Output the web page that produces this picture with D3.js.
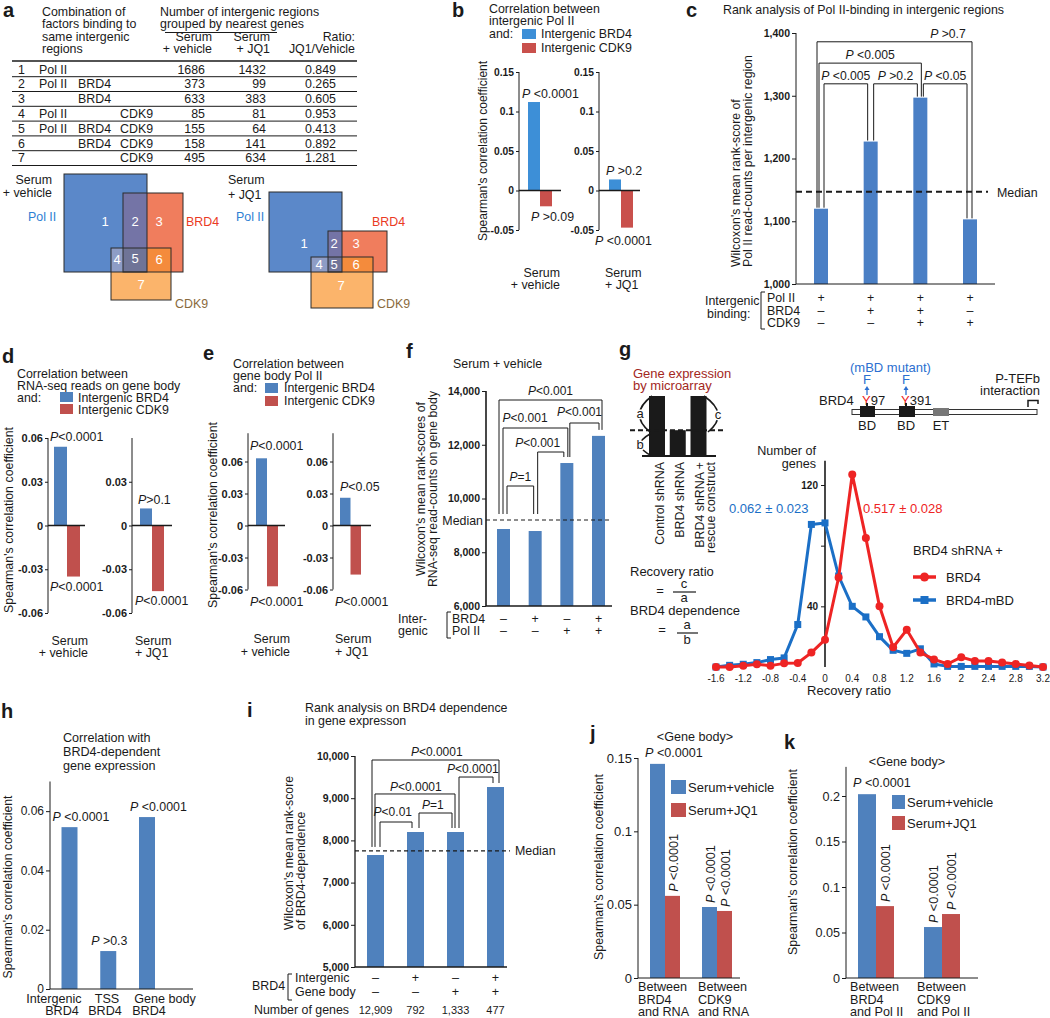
<!DOCTYPE html>
<html><head><meta charset="utf-8">
<script src="https://cdn.jsdelivr.net/npm/d3@7"></script>
<style>body{margin:0;background:#fff}svg{display:block}</style>
</head><body><script>
// ===================== DATA =====================
// a: table
const regionIds=[1,2,3,4,5,6,7];
const regionPolII=["Pol II","Pol II","","Pol II","Pol II","",""];
const regionBRD4=["","BRD4","BRD4","","BRD4","BRD4",""];
const regionCDK9=["","","","CDK9","CDK9","CDK9","CDK9"];
const countVehicle=[1686,373,633,85,155,158,495];
const countJQ1=[1432,99,383,81,64,141,634];
const ratioJQ1Vehicle=[0.849,0.265,0.605,0.953,0.413,0.892,1.281];
// b
const bConditions=["Serum + vehicle","Serum + JQ1"];
const bIntergenicBRD4=[0.112,0.014];
const bIntergenicCDK9=[-0.020,-0.047];
const bP_BRD4=[" <0.0001"," >0.2"];
const bP_CDK9=[" >0.09"," <0.0001"];
const bTicks=[-0.05,0,0.05,0.1,0.15];
// c
const cGroups=["Pol II","Pol II+BRD4","Pol II+BRD4+CDK9","Pol II+CDK9"];
const cValues=[1120,1227,1297,1103];
const cMedian=1147;
const cPolII=["+","+","+","+"];
const cBRD4=["–","+","+","–"];
const cCDK9=["–","–","+","+"];
const cTicks=[1000,1100,1200,1300,1400];
const cPairs=[[0,1],[1,2],[2,3],[0,2],[0,3]];
const cPvalues=[" <0.005"," >0.2"," <0.05"," <0.005"," >0.7"];
const cLevels=[1319,1319,1319,1352,1386];
// d
const dBRD4=[0.054,0.0117];
const dCDK9=[-0.035,-0.045];
const dP_BRD4=["<0.0001",">0.1"];
const dP_CDK9=["<0.0001","<0.0001"];
const dTicks=[-0.06,-0.03,0,0.03,0.06];
// e
const eBRD4=[0.063,0.026];
const eCDK9=[-0.057,-0.046];
const eP_BRD4=["<0.0001","<0.05"];
const eP_CDK9=["<0.0001","<0.0001"];
const eTicks=[-0.06,-0.03,0,0.03,0.06];
// f
const fValues=[8865,8790,11320,12330];
const fMedian=9200;
const fBRD4=["–","+","–","+"];
const fPolII=["–","–","+","+"];
const fTicks=[6000,8000,10000,12000,14000];
const fPairs=[[0,1],[1,2],[0,2],[2,3],[0,3]];
const fPvalues=["=1","<0.001","<0.001","<0.001","<0.001"];
const fLevels=[10465,11730,12623,12809,13665];
// g
const gRatio=[-1.6,-1.4,-1.2,-1.0,-0.8,-0.6,-0.4,-0.2,0,0.2,0.4,0.6,0.8,1.0,1.2,1.4,1.6,1.8,2.0,2.2,2.4,2.6,2.8,3.0,3.2];
const gBRD4=[0,0,0.9,1.8,0.9,2.4,2.6,9.5,18,59,127,85,40,13,24.5,9.5,5,2,6.5,4,4,3,2,1,0];
const gBRD4mBD=[0,1.1,1.8,2.9,4.9,6,28,94,95,60,40,33,20,11,9,12,2,0.4,0.4,0.4,0.4,0.4,0.4,0.4,0];
const gXTicks=[-1.6,-1.2,-0.8,-0.4,0,0.4,0.8,1.2,1.6,2,2.4,2.8,3.2];
const gYTicks=[40,80,120];
const gSchematic=[1,0.43,1];
// h
const hCats=["Intergenic BRD4","TSS BRD4","Gene body BRD4"];
const hValues=[0.0546,0.0128,0.058];
const hP=[" <0.0001"," >0.3"," <0.0001"];
const hTicks=[0,0.02,0.04,0.06];
// i
const iValues=[7654,8199,8199,9265];
const iMedian=7750;
const iIntergenic=["–","+","–","+"];
const iGeneBody=["–","–","+","+"];
const iNumGenes=["12,909","792","1,333","477"];
const iTicks=[5000,6000,7000,8000,9000,10000];
const iPairs=[[0,1],[1,2],[0,2],[2,3],[0,3]];
const iPvalues=["<0.01","=1","<0.0001","<0.0001","<0.0001"];
const iLevels=[8436,8649,9100,9502,9905];
// j
const jCats=["BRD4 and RNA","CDK9 and RNA"];
const jVehicle=[0.146,0.0484];
const jJQ1=[0.056,0.0457];
const jTicks=[0,0.05,0.1,0.15];
// k
const kCats=["BRD4 and Pol II","CDK9 and Pol II"];
const kVehicle=[0.202,0.056];
const kJQ1=[0.079,0.0703];
const kTicks=[0,0.05,0.1,0.15,0.2];

// ===================== HELPERS =====================
const FONT='"Liberation Sans", Arial, Helvetica, sans-serif';
const INK="#1a1a1a", BLUE="#4f81bd", RED="#c0504d";
const svg=d3.select("body").append("svg").attr("width",1050).attr("height",1018)
  .attr("font-family",FONT).attr("font-size",12.4).attr("fill",INK);
svg.append("rect").attr("width",1050).attr("height",1018).attr("fill","#fff");

function T(g,x,y,s,o={}){
  const t=g.append("text").attr("x",x).attr("y",y).text(s);
  if(o.size) t.attr("font-size",o.size);
  if(o.anchor) t.attr("text-anchor",o.anchor);
  if(o.fill) t.attr("fill",o.fill);
  if(o.weight) t.attr("font-weight",o.weight);
  if(o.italic) t.attr("font-style","italic");
  if(o.rot!=null) t.attr("transform",`rotate(${o.rot},${x},${y})`);
  return t;
}
function PT(g,x,y,rest,o={}){
  const t=T(g,x,y,"",o);
  t.append("tspan").attr("font-style","italic").text("P");
  t.append("tspan").text(rest);
  return t;
}
function L(g,x1,y1,x2,y2,o={}){
  return g.append("line").attr("x1",x1).attr("y1",y1).attr("x2",x2).attr("y2",y2)
    .attr("stroke",o.c||INK).attr("stroke-width",o.sw||1).attr("stroke-dasharray",o.dash||null);
}
function yAxis(g,x,scale,ticks,fmt,o={}){
  const ax=g.append("g").attr("transform",`translate(${x},0)`)
    .call(d3.axisLeft(scale).tickValues(ticks).tickFormat(fmt).tickSize(o.tick??4).tickPadding(o.pad??2));
  ax.attr("font-family",null).attr("font-size",null).attr("fill",null);
  ax.select(".domain").remove();
  ax.selectAll(".tick line").attr("stroke",INK).attr("stroke-width",o.tsw||1);
  ax.selectAll(".tick text").attr("font-size",o.size||11).attr("font-weight",o.weight||"normal").attr("fill",INK);
  const ext=o.extent||scale.domain();
  L(g,x,scale(ext[0]),x,scale(ext[1]),{sw:o.sw||1});
  return ax;
}
function corrChart(g,c){
  yAxis(g,c.axisX,c.y,c.ticks,d=>String(d),c.tickOpts);
  const xb=d3.scaleBand().domain([0,1]).range([c.barX,c.barX+2*c.barW]);
  g.selectAll(null).data(c.vals).join("rect")
    .attr("x",(d,i)=>xb(i)).attr("width",xb.bandwidth())
    .attr("y",d=>c.y(Math.max(0,d))).attr("height",d=>Math.abs(c.y(d)-c.y(0)))
    .attr("fill",(d,i)=>c.cols[i]);
  L(g,c.axisX,c.y(0),c.zeroEnd,c.y(0),{sw:1.6});
  c.vals.forEach((v,i)=>{const lb=c.labels[i];PT(g,c.axisX+lb.dx,c.y(v)+lb.dy,lb.t);});
}
function bracket(g,x1,x2,yTop,yb1,yb2,label,lx,ly,size){
  g.append("path").attr("d",`M${x1},${yb1}V${yTop}H${x2}V${yb2}`).attr("fill","none").attr("stroke",INK).attr("stroke-width",1);
  PT(g,x1+(x2-x1)*lx,yTop-ly,label,{anchor:"middle",size:size||12});
}
function rowBracket(g,x,y1,y2){
  g.append("path").attr("d",`M${x+4},${y1}H${x}V${y2}H${x+4}`).attr("fill","none").attr("stroke",INK).attr("stroke-width",1);
}

// ===================== PANEL a =====================
const gA=svg.append("g");
T(gA,3,17,"a",{size:20,weight:"bold"});
["Combination of","factors binding to","same intergenic","regions"].forEach((s,i)=>T(gA,42,16+i*12.3,s));
T(gA,160,16,"Number of intergenic regions");
T(gA,160,28.3,"grouped by nearest genes");
L(gA,165,32.5,277,32.5);
[["Serum","+ vehicle",212],["Serum","+ JQ1",270],["Ratio:","JQ1/Vehicle",355]].forEach(([s1,s2,x])=>{
  T(gA,x,40.6,s1,{anchor:"end"});T(gA,x,52.9,s2,{anchor:"end"});});
L(gA,12,61,357,61,{sw:1.4});
const rowY=d3.scalePoint().domain(regionIds).range([73.5,73.5+6*14.8]);
regionIds.forEach((id,i)=>{
  const y=rowY(id);
  T(gA,18,y,String(id));
  T(gA,39,y,regionPolII[i]);T(gA,78,y,regionBRD4[i]);T(gA,120,y,regionCDK9[i]);
  T(gA,205,y,countVehicle[i],{anchor:"end"});
  T(gA,266,y,countJQ1[i],{anchor:"end"});
  T(gA,336,y,ratioJQ1Vehicle[i].toFixed(3),{anchor:"end"});
  L(gA,12,y+3.2,357,y+3.2);
});
const VC={pol:"#5b88c9",brd:"#f07d5d",cdk:"#fbb46b",pb:"#7474a6",bc:"#f48b3c",pc:"#8e9dc6",pbc:"#6f7497"};
function venn(g,R,nums){
  const inter=(a,b)=>[Math.max(a[0],b[0]),Math.max(a[1],b[1]),Math.min(a[2],b[2]),Math.min(a[3],b[3])];
  const rect=(r,fill,stroke)=>g.append("rect").attr("x",r[0]).attr("y",r[1]).attr("width",r[2]-r[0]).attr("height",r[3]-r[1]).attr("fill",fill).attr("stroke",stroke||"none");
  rect(R.pol,VC.pol);rect(R.brd,VC.brd);rect(R.cdk,VC.cdk);
  rect(inter(R.pol,R.brd),VC.pb);rect(inter(R.brd,R.cdk),VC.bc);rect(inter(R.pol,R.cdk),VC.pc);
  rect(inter(inter(R.pol,R.brd),R.cdk),VC.pbc);
  [R.pol,R.brd,R.cdk].forEach(r=>rect(r,"none","#2b2b2b").attr("stroke-width",1));
  nums.forEach(([n,x,y])=>T(g,x,y,n,{anchor:"middle",fill:"#fff",size:13}));
}
venn(gA,{pol:[64,174,147,272],brd:[123,193,183,272],cdk:[111,248,171,300]},
  [[1,105,226],[2,135,226],[3,159,226],[4,117,264],[5,135,263],[6,159,264],[7,141,289]]);
venn(gA,{pol:[269,192,342,272],brd:[328,231,387,272],cdk:[311,257,373,308]},
  [[1,304,248],[2,334,248],[3,356,248],[4,319,269],[5,334,269],[6,356,269],[7,341,290]]);
T(gA,52,184,"Serum",{anchor:"end"});T(gA,52,197,"+ vehicle",{anchor:"end"});
T(gA,228,184,"Serum");T(gA,228,199,"+ JQ1");
T(gA,28,221,"Pol II",{fill:"#2f7fd3"});T(gA,236,221,"Pol II",{fill:"#2f7fd3"});
T(gA,186,226,"BRD4",{fill:"#ea3a24"});T(gA,372,226,"BRD4",{fill:"#ea3a24"});
T(gA,175,308,"CDK9",{fill:"#8a6a3c"});T(gA,377,308,"CDK9",{fill:"#8a6a3c"});

// ===================== PANEL b =====================
const gB=svg.append("g");
const bBlue="#3d8fd7", bRed="#c9504c";
T(gB,452,17,"b",{size:20,weight:"bold"});
T(gB,489,12.5,"Correlation between");T(gB,489,25,"intergenic Pol II");T(gB,489,37.5,"and:");
gB.append("rect").attr("x",522).attr("y",29).attr("width",14).attr("height",10).attr("fill",bBlue);
gB.append("rect").attr("x",522).attr("y",43).attr("width",14).attr("height",10).attr("fill",bRed);
T(gB,541,38,"Intergenic BRD4");T(gB,541,52,"Intergenic CDK9");
const yB=d3.scaleLinear().domain([-0.05,0.15]).range([230,72]);
const bTickOpts={size:10.3,weight:"bold",tick:3,pad:2};
corrChart(gB,{axisX:519,y:yB,ticks:bTicks,tickOpts:bTickOpts,barX:528,barW:12,zeroEnd:561,
  vals:[bIntergenicBRD4[0],bIntergenicCDK9[0]],cols:[bBlue,bRed],
  labels:[{t:bP_BRD4[0],dx:3,dy:-4},{t:bP_CDK9[0],dx:12,dy:15}]});
corrChart(gB,{axisX:599,y:yB,ticks:bTicks,tickOpts:bTickOpts,barX:609,barW:12,zeroEnd:640,
  vals:[bIntergenicBRD4[1],bIntergenicCDK9[1]],cols:[bBlue,bRed],
  labels:[{t:bP_BRD4[1],dx:7,dy:-4},{t:bP_CDK9[1],dx:-4,dy:17}]});
T(gB,487,151,"Spearman's correlation coefficient",{rot:-90,anchor:"middle",size:12});
{const [s1,s2]=bConditions[0].split(" + ");T(gB,560,277,s1,{anchor:"end"});T(gB,560,289,"+ "+s2,{anchor:"end"});}
{const [s1,s2]=bConditions[1].split(" + ");T(gB,605,277,s1);T(gB,605,289,"+ "+s2);}

// ===================== PANEL c =====================
const gC=svg.append("g");
T(gC,686,17,"c",{size:20,weight:"bold"});
T(gC,723,14,"Rank analysis of Pol II-binding in intergenic regions");
const xC=d3.scalePoint().domain(cGroups).range([821,970]);
const yC=d3.scaleLinear().domain([1000,1400]).range([284,33]);
yAxis(gC,796,yC,cTicks,d3.format(","),{size:10.5,weight:"bold",tick:4,pad:2});
gC.selectAll(null).data(cValues).join("rect")
  .attr("x",(d,i)=>xC(cGroups[i])-7).attr("width",14)
  .attr("y",d=>yC(d)).attr("height",d=>yC(1000)-yC(d)).attr("fill","#4a7fc5");
L(gC,796,yC(1000),995,yC(1000));
L(gC,796,yC(cMedian),988,yC(cMedian),{dash:"6,4",sw:1.8});
T(gC,997,yC(cMedian)+5,"Median");
const cDx=[[3,-3],[3,-3],[3,-3],[-2,1],[-4,2]], cLx=[0.5,0.5,0.5,0.5,0.845];
cPairs.forEach(([a,b],k)=>{
  const x1=xC(cGroups[a])+cDx[k][0], x2=xC(cGroups[b])+cDx[k][1];
  bracket(gC,x1,x2,yC(cLevels[k]),yC(cValues[a])-1,yC(cValues[b])-1,cPvalues[k],cLx[k],4,12.2);
});
T(gC,740,267,"Wilcoxon's mean rank-score of",{rot:-90,size:12.3});
T(gC,752,267,"Pol II read-counts per intergenic region",{rot:-90,size:12.3});
T(gC,705,305,"Intergenic");T(gC,707,318,"binding:");
rowBracket(gC,761,292,329);
T(gC,767,302,"Pol II");T(gC,767,314.5,"BRD4");T(gC,767,327,"CDK9");
[cPolII,cBRD4,cCDK9].forEach((arr,r)=>arr.forEach((s,i)=>T(gC,xC(cGroups[i]),302+r*12.5,s,{anchor:"middle",size:12.4})));

// ===================== PANEL d =====================
const gD=svg.append("g");
T(gD,2,363,"d",{size:20,weight:"bold"});
T(gD,17,378,"Correlation between");T(gD,17,390,"RNA-seq reads on gene body");T(gD,17,401.5,"and:");
gD.append("rect").attr("x",60).attr("y",392).attr("width",13).attr("height",10).attr("fill",BLUE);
gD.append("rect").attr("x",60).attr("y",404).attr("width",13).attr("height",10).attr("fill",RED);
T(gD,78,401.5,"Intergenic BRD4");T(gD,78,413.5,"Intergenic CDK9");
const yD=d3.scaleLinear().domain([-0.06,0.06]).range([613,438]);
const dTickOpts={size:11,weight:"bold",tick:3,pad:2};
corrChart(gD,{axisX:48,y:yD,ticks:dTicks,tickOpts:dTickOpts,barX:54,barW:13,zeroEnd:85,
  vals:[dBRD4[0],dCDK9[0]],cols:[BLUE,RED],
  labels:[{t:dP_BRD4[0],dx:2,dy:-6},{t:dP_CDK9[0],dx:2,dy:14}]});
corrChart(gD,{axisX:132,y:yD,ticks:dTicks.slice(0,4),tickOpts:{...dTickOpts,extent:[-0.06,0.06]},barX:140,barW:12,zeroEnd:172,
  vals:[dBRD4[1],dCDK9[1]],cols:[BLUE,RED],
  labels:[{t:dP_BRD4[1],dx:6,dy:-4},{t:dP_CDK9[1],dx:3,dy:14}]});
T(gD,13,520,"Spearman's correlation coefficient",{rot:-90,anchor:"middle",size:12.4});
T(gD,88,645,"Serum",{anchor:"end"});T(gD,88,657,"+ vehicle",{anchor:"end"});
T(gD,135,645,"Serum");T(gD,135,657,"+ JQ1");

// ===================== PANEL e =====================
const gE=svg.append("g");
T(gE,203,360,"e",{size:20,weight:"bold"});
T(gE,233,368,"Correlation between");T(gE,233,380,"gene body Pol II");T(gE,233,392,"and:");
gE.append("rect").attr("x",265).attr("y",383).attr("width",13).attr("height",10).attr("fill",BLUE);
gE.append("rect").attr("x",265).attr("y",396).attr("width",13).attr("height",10).attr("fill",RED);
T(gE,284,392,"Intergenic BRD4");T(gE,284,405,"Intergenic CDK9");
const yE=d3.scaleLinear().domain([-0.06,0.06]).range([589.5,461.5]);
const eTickOpts={size:11,weight:"bold",tick:3,pad:2,extent:[-0.06,0.0865]};
corrChart(gE,{axisX:248,y:yE,ticks:eTicks,tickOpts:eTickOpts,barX:256,barW:11,zeroEnd:285,
  vals:[eBRD4[0],eCDK9[0]],cols:[BLUE,RED],
  labels:[{t:eP_BRD4[0],dx:2,dy:-8},{t:eP_CDK9[0],dx:2,dy:20}]});
corrChart(gE,{axisX:333,y:yE,ticks:eTicks,tickOpts:eTickOpts,barX:340,barW:10.5,zeroEnd:371,
  vals:[eBRD4[1],eCDK9[1]],cols:[BLUE,RED],
  labels:[{t:eP_BRD4[1],dx:7,dy:-7},{t:eP_CDK9[1],dx:2,dy:31}]});
T(gE,217,515,"Spearman's correlation coefficient",{rot:-90,anchor:"middle",size:12.4});
T(gE,290,643,"Serum",{anchor:"end"});T(gE,290,656,"+ vehicle",{anchor:"end"});
T(gE,335,643,"Serum");T(gE,335,656,"+ JQ1");

// ===================== PANEL f =====================
const gF=svg.append("g");
T(gF,406,358,"f",{size:20,weight:"bold"});
T(gF,453,368,"Serum + vehicle");
const xF=d3.scalePoint().domain([0,1,2,3]).range([503.5,598.5]);
const yF=d3.scaleLinear().domain([6000,14000]).range([606,391]);
yAxis(gF,486,yF,fTicks,d3.format(","),{size:10.5,weight:"bold",tick:4,pad:2,sw:1.6});
gF.selectAll(null).data(fValues).join("rect")
  .attr("x",(d,i)=>xF(i)-6.5).attr("width",13)
  .attr("y",d=>yF(d)).attr("height",d=>yF(6000)-yF(d)).attr("fill",BLUE);
L(gF,486,yF(6000),612,yF(6000),{sw:1.6});
L(gF,486,yF(fMedian),612,yF(fMedian),{dash:"4,3",sw:1});
T(gF,483,yF(fMedian)+4.5,"Median",{anchor:"end"});
const fDx=[[3.5,-1.5],[2.5,-3],[-0.5,1],[3,0.5],[-4.5,3.5]], fLx=[0.5,0,0.34,0.33,0.5], fLy=[5,5,6,7,5];
const fBottom=i=>yF(Math.max(fValues[i],fMedian))-6;
fPairs.forEach(([a,b],k)=>{
  bracket(gF,xF(a)+fDx[k][0],xF(b)+fDx[k][1],yF(fLevels[k]),fBottom(a),fBottom(b),fPvalues[k],fLx[k],fLy[k],12);
});
T(gF,425,489,"Wilcoxon's mean rank-scores of",{rot:-90,anchor:"middle",size:12.3});
T(gF,437,489,"RNA-seq read-counts on gene body",{rot:-90,anchor:"middle",size:12.3});
T(gF,398,623,"Inter-");T(gF,398,635,"genic");
rowBracket(gF,447,612,638);
T(gF,452,623,"BRD4");T(gF,452,635,"Pol II");
[fBRD4,fPolII].forEach((arr,r)=>arr.forEach((s,i)=>T(gF,xF(i),623+r*12,s,{anchor:"middle",size:12.4})));

// ===================== PANEL g =====================
const gG=svg.append("g");
const GBLUE="#1b6fc6", GRED="#ee2424", DRED="#a3281d", MBLUE="#2c6fd0";
T(gG,619,356,"g",{size:20,weight:"bold"});
T(gG,633,378,"Gene expression",{fill:DRED,size:13});
T(gG,633,390,"by microarray",{fill:DRED,size:13});
const xS=d3.scalePoint().domain([0,1,2]).range([657,698.5]);
const yS=d3.scaleLinear().domain([0,1]).range([456,396]);
gG.selectAll(null).data(gSchematic).join("rect")
  .attr("x",(d,i)=>xS(i)-8).attr("width",16).attr("y",d=>yS(d)).attr("height",d=>yS(0)-yS(d)).attr("fill","#1a1a1a");
L(gG,642,yS(0),716,yS(0),{sw:2});
L(gG,630,yS(gSchematic[1]),725,yS(gSchematic[1]),{sw:2,dash:"5,3"});
["M652,396Q628,414 650,432","M650,434Q630,445 652,456","M704,396Q730,414 708,432"].forEach(p=>
  gG.append("path").attr("d",p).attr("fill","none").attr("stroke",INK).attr("stroke-width",1.6));
[["a",640,418],["b",640,449],["c",718,419]].forEach(([s,x,y])=>
  T(gG,x,y,s,{anchor:"middle",size:13}).attr("stroke","#fff").attr("stroke-width",3).attr("paint-order","stroke"));
T(gG,664,462,"Control shRNA",{rot:-90,anchor:"end"});
T(gG,684,462,"BRD4 shRNA",{rot:-90,anchor:"end"});
T(gG,704,462,"BRD4 shRNA +",{rot:-90,anchor:"end"});
T(gG,715,462,"rescue construct",{rot:-90,anchor:"end"});
T(gG,630,576,"Recovery ratio",{size:13});
T(gG,660,595,"=",{anchor:"middle",size:13});
T(gG,684,588,"c",{anchor:"middle",size:13});L(gG,673,592,696,592,{sw:1.2});T(gG,684,602,"a",{anchor:"middle",size:13});
T(gG,630,615,"BRD4 dependence",{size:13});
T(gG,662,634,"=",{anchor:"middle",size:13});
T(gG,687,629,"a",{anchor:"middle",size:13});L(gG,677,633,698,633,{sw:1.2});T(gG,687,644,"b",{anchor:"middle",size:13});
// domain diagram
T(gG,850,372,"(mBD mutant)",{fill:MBLUE,size:13});
[867,906].forEach(x=>{
  T(gG,x,384,"F",{anchor:"middle",fill:MBLUE,size:13});
  L(gG,x,395,x,389,{c:MBLUE,sw:1.3});
  gG.append("path").attr("d",`M${x-2.5},390L${x},386L${x+2.5},390Z`).attr("fill",MBLUE);
});
T(gG,819,405,"BRD4",{size:13});
{const t=T(gG,862,405,"",{size:13});t.append("tspan").attr("fill",GRED).text("Y");t.append("tspan").text("97");}
{const t=T(gG,901,405,"",{size:13});t.append("tspan").attr("fill",GRED).text("Y");t.append("tspan").text("391");}
gG.append("rect").attr("x",852).attr("y",409.5).attr("width",185).attr("height",5).attr("fill","#fff").attr("stroke","#333").attr("stroke-width",1);
gG.append("rect").attr("x",860).attr("y",406).attr("width",15).attr("height",11).attr("fill","#1a1a1a");
gG.append("rect").attr("x",899).attr("y",406).attr("width",16).attr("height",11).attr("fill","#1a1a1a");
gG.append("rect").attr("x",933).attr("y",408).attr("width",16).attr("height",8).attr("fill","#777");
L(gG,867,403,867,406,{sw:2});L(gG,906,403,906,406,{sw:2});
T(gG,867,430,"BD",{anchor:"middle",size:13});T(gG,906,430,"BD",{anchor:"middle",size:13});T(gG,941,430,"ET",{anchor:"middle",size:13});
T(gG,1040,383,"P-TEFb",{anchor:"end",size:13});T(gG,1040,395,"interaction",{anchor:"end",size:13});
gG.append("path").attr("d","M1028,407V400.5H1038V404").attr("fill","none").attr("stroke",INK).attr("stroke-width",1.5);
// line chart
const xG=d3.scaleLinear().domain([0,3.2]).range([825,1043]);
const yG=d3.scaleLinear().domain([0,120]).range([667,485]);
yAxis(gG,xG(0),yG,gYTicks,d=>d===80?"":String(d),{size:10,weight:"bold",tick:4,pad:3,extent:[0,136],sw:1.6});
gXTicks.forEach(v=>T(gG,xG(v),682,String(Math.round(v*10)/10),{anchor:"middle",size:10}));
T(gG,849,695,"Recovery ratio",{anchor:"middle",size:13});
T(gG,816,455,"Number of",{anchor:"end",size:12.6});T(gG,816,467.5,"genes",{anchor:"end",size:12.6});
const lineG=d3.line().x((d,i)=>xG(gRatio[i])).y(d=>yG(d));
gG.append("path").datum(gBRD4mBD).attr("d",lineG).attr("fill","none").attr("stroke",GBLUE).attr("stroke-width",3).attr("stroke-linejoin","round");
gG.selectAll(null).data(gBRD4mBD).join("rect").attr("x",(d,i)=>xG(gRatio[i])-3.5).attr("y",d=>yG(d)-3.5).attr("width",7).attr("height",7).attr("fill",GBLUE);
gG.append("path").datum(gBRD4).attr("d",lineG).attr("fill","none").attr("stroke",GRED).attr("stroke-width",3).attr("stroke-linejoin","round");
gG.selectAll(null).data(gBRD4).join("circle").attr("cx",(d,i)=>xG(gRatio[i])).attr("cy",d=>yG(d)).attr("r",4).attr("fill",GRED);
T(gG,729,513,"0.062 ± 0.023",{fill:GBLUE,size:13});
T(gG,863,513,"0.517 ± 0.028",{fill:GRED,size:13});
T(gG,913,555,"BRD4 shRNA +",{size:13});
L(gG,913,577,936,577,{c:GRED,sw:3.5});gG.append("circle").attr("cx",924.5).attr("cy",577).attr("r",4.5).attr("fill",GRED);
L(gG,913,600,936,600,{c:GBLUE,sw:3.5});gG.append("rect").attr("x",920.5).attr("y",596).attr("width",8).attr("height",8).attr("fill",GBLUE);
T(gG,946,582,"BRD4",{size:13});T(gG,946,605,"BRD4-mBD",{size:13});

// ===================== PANEL h =====================
const gH=svg.append("g");
T(gH,1,718,"h",{size:20,weight:"bold"});
T(gH,63,742,"Correlation with",{size:12.6});T(gH,63,756,"BRD4-dependent",{size:12.6});T(gH,63,770,"gene expression",{size:12.6});
const xH=d3.scalePoint().domain(hCats).range([69.5,147]);
const yH=d3.scaleLinear().domain([0,0.07]).range([989,781.5]);
yAxis(gH,50,yH,hTicks,d=>String(d),{size:12,tick:4,pad:2});
gH.selectAll(null).data(hValues).join("rect")
  .attr("x",(d,i)=>xH(hCats[i])-8).attr("width",16)
  .attr("y",d=>yH(d)).attr("height",d=>yH(0)-yH(d)).attr("fill",BLUE);
L(gH,50,yH(0),193,yH(0));
hValues.forEach((v,i)=>PT(gH,xH(hCats[i])-17,yH(v)-6,hP[i],{size:12.4}));
T(gH,12,887,"Spearman's correlation coefficient",{rot:-90,anchor:"middle",size:12.2});
const hL1=[54,107,165], hL2=[62,105,149];
hCats.forEach((c,i)=>{const w=c.split(" ");const last=w.pop();
  T(gH,hL1[i],1003,w.join(" "),{anchor:"middle",size:12.6});T(gH,hL2[i],1015,last,{anchor:"middle",size:12.6});});

// ===================== PANEL i =====================
const gI=svg.append("g");
T(gI,247,717,"i",{size:20,weight:"bold"});
T(gI,305,712,"Rank analysis on BRD4 dependence");T(gI,305,725,"in gene expresson");
const xI=d3.scalePoint().domain([0,1,2,3]).range([375.5,495.5]);
const yI=d3.scaleLinear().domain([5000,10000]).range([967,756]);
yAxis(gI,355,yI,iTicks,d3.format(","),{size:10.5,weight:"bold",tick:4,pad:2,sw:1.3});
gI.selectAll(null).data(iValues).join("rect")
  .attr("x",(d,i)=>xI(i)-8.5).attr("width",17)
  .attr("y",d=>yI(d)).attr("height",d=>yI(5000)-yI(d)).attr("fill",BLUE);
L(gI,355,yI(5000),507,yI(5000),{sw:1.3});
L(gI,355,yI(iMedian),510,yI(iMedian),{dash:"4,3",sw:1.2});
T(gI,515,yI(iMedian)+4,"Median");
const iDx=[[4.5,-3.5],[3.5,-3.5],[-0.5,-0.5],[3.5,-2.5],[-3.5,3.5]], iLx=[0.4,0.42,0.51,0.41,0.51], iLy=[6,4,3,4,4];
const iBottom=i=>yI(Math.max(iValues[i],iMedian))-4;
iPairs.forEach(([a,b],k)=>{
  bracket(gI,xI(a)+iDx[k][0],xI(b)+iDx[k][1],yI(iLevels[k]),iBottom(a),iBottom(b),iPvalues[k],iLx[k],iLy[k],12);
});
T(gI,293,930,"Wilcoxon's mean rank-score",{rot:-90,size:12.3});
T(gI,305,930,"of BRD4-dependence",{rot:-90,size:12.3});
T(gI,252,990,"BRD4");
rowBracket(gI,288,974,1000);
T(gI,295,982,"Intergenic");T(gI,295,996,"Gene body");
[iIntergenic,iGeneBody].forEach((arr,r)=>arr.forEach((s,i)=>T(gI,xI(i),982+r*14,s,{anchor:"middle",size:12.6})));
T(gI,254,1014,"Number of genes");
iNumGenes.forEach((s,i)=>T(gI,xI(i),1014,s,{anchor:"middle",size:11}));

// ===================== PANELS j, k =====================
function groupedPanel(g,o){
  const xg=d3.scalePoint().domain(o.cats).range(o.centers);
  yAxis(g,o.axisX,o.y,o.ticks,d=>String(d),{size:o.tickSize,tick:4,pad:2});
  const bars=[];
  o.cats.forEach((c,i)=>{bars.push({v:o.veh[i],x:xg(c)-o.bw,col:BLUE});bars.push({v:o.jq1[i],x:xg(c),col:RED});});
  g.selectAll(null).data(bars).join("rect").attr("x",d=>d.x).attr("width",o.bw)
    .attr("y",d=>o.y(d.v)).attr("height",d=>o.y(0)-o.y(d.v)).attr("fill",d=>d.col);
  L(g,o.axisX,o.y(0),o.xEnd,o.y(0));
  bars.forEach((b,i)=>{
    if(i===0) PT(g,o.hLabelX,o.y(b.v)-7," <0.0001",{size:12.6});
    else PT(g,b.x+o.bw/2+5.5,o.y(b.v)-4," <0.0001",{size:12.6,rot:-90});
  });
  g.append("rect").attr("x",o.legX).attr("y",o.legY[0]).attr("width",o.legW).attr("height",o.legH).attr("fill",BLUE);
  g.append("rect").attr("x",o.legX).attr("y",o.legY[1]).attr("width",o.legW).attr("height",o.legH).attr("fill",RED);
  T(g,o.legX+o.legW+2,o.legY[0]+o.legH-2,"Serum+vehicle",{size:13});
  T(g,o.legX+o.legW+2,o.legY[1]+o.legH-2,"Serum+JQ1",{size:13});
  o.cats.forEach((c,i)=>{
    const [w1,w2,...rest]=c.split(" ");
    T(g,o.labX[i],991,"Between",{size:12.6});T(g,o.labX[i],1003.5,w1,{size:12.6});T(g,o.labX[i],1015.5,[w2,...rest].join(" "),{size:12.6});
  });
}
const gJ=svg.append("g");
T(gJ,590,740,"j",{size:20,weight:"bold"});
T(gJ,695,741,"<Gene body>",{anchor:"middle",size:12.6});
groupedPanel(gJ,{cats:jCats,centers:[665,717],veh:jVehicle,jq1:jJQ1,bw:15,axisX:638,xEnd:740,
  y:d3.scaleLinear().domain([0,0.15]).range([978,758]),ticks:jTicks,tickSize:13,hLabelX:645,
  legX:671,legY:[780,803],legW:15,legH:14,labX:[638,698]});
T(gJ,603,867,"Spearman's correlation coefficient",{rot:-90,anchor:"middle",size:12.4});

const gK=svg.append("g");
T(gK,784,749,"k",{size:20,weight:"bold"});
T(gK,907,766,"<Gene body>",{anchor:"middle",size:12.6});
const yK=d3.scaleLinear().domain([0,0.2]).range([978,796]);
groupedPanel(gK,{cats:kCats,centers:[876,942],veh:kVehicle,jq1:kJQ1,bw:18,axisX:846,xEnd:978,
  y:yK,ticks:kTicks,tickSize:12.6,hLabelX:853,
  legX:892,legY:[795,816],legW:13,legH:14,labX:[850,917]});
L(gK,846,yK(0.2),846,yK(0.232));
T(gK,797,862,"Spearman's correlation coefficient",{rot:-90,anchor:"middle",size:12.4});
</script></body></html>
